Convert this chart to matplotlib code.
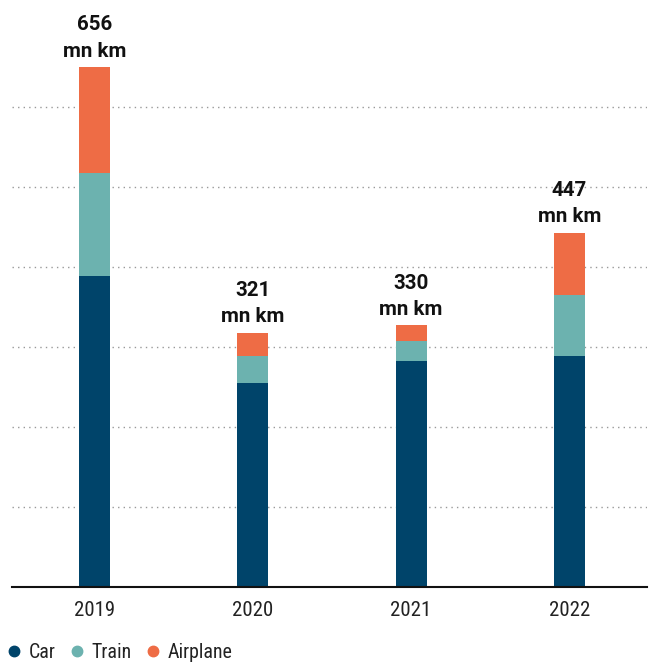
import matplotlib
matplotlib.use("Agg")
import matplotlib.pyplot as plt
from matplotlib.lines import Line2D
import numpy as np

plt.rcParams['font.family'] = ['Roboto', 'DejaVu Sans']
narrow = ['Roboto Condensed', 'Liberation Sans Narrow', 'DejaVu Sans']

# Passenger kilometres by mode (mn km)
years = ["2019", "2020", "2021", "2022"]
car = [392, 258, 285, 292]
train = [130, 33, 25, 77]
airplane = [134, 30, 20, 78]
totals = [656, 321, 330, 447]
series_names = ["Car", "Train", "Airplane"]
colors = ["#00446A", "#6CB2AF", "#EE6C45"]

W, H = 650, 664
fig = plt.figure(figsize=(W / 100, H / 100), dpi=100)
ax = fig.add_axes([12 / W, 77 / H, 635 / W, 577 / H])

x = np.arange(len(years))
bw = 0.196
bottom = np.zeros(len(years))
for vals, col in zip([car, train, airplane], colors):
    ax.bar(x, vals, bw, bottom=bottom, color=col, zorder=3, linewidth=0)
    bottom += np.array(vals)

for xi, tot in zip(x, totals):
    ax.annotate(f"{tot}\nmn km", (xi, tot), xytext=(0, 4.5), textcoords="offset points",
                ha="center", va="bottom", fontsize=14.8, fontweight="bold",
                color="#111111", linespacing=1.5)

ax.set_xlim(-0.52, 3.49)
ax.set_ylim(0, 728)
ax.set_yticks([101 * k for k in range(1, 7)])
ax.yaxis.grid(True, linestyle=(0, (1, 3)), color="#999999", linewidth=1, zorder=0)
ax.tick_params(axis="y", left=False, labelleft=False)
ax.set_xticks(x)
ax.set_xticklabels(years, fontsize=15, color="#222222", family=narrow)
ax.tick_params(axis="x", length=0, pad=10)
for s in ["top", "right", "left"]:
    ax.spines[s].set_visible(False)
ax.spines["bottom"].set_color("#111111")
ax.spines["bottom"].set_linewidth(1.5)
ax.spines["bottom"].set_zorder(4)

handles = [Line2D([], [], marker="o", linestyle="", markersize=7.5, color=c) for c in colors]
fig.legend(handles, series_names, loc="lower left", bbox_to_anchor=(-0.021, -0.024), ncol=3,
           frameon=False, prop={'family': narrow, 'size': 14.3}, handletextpad=0.25,
           columnspacing=0.55, handlelength=1.0, labelcolor="#222222")

fig.savefig("out.png", dpi=100)
